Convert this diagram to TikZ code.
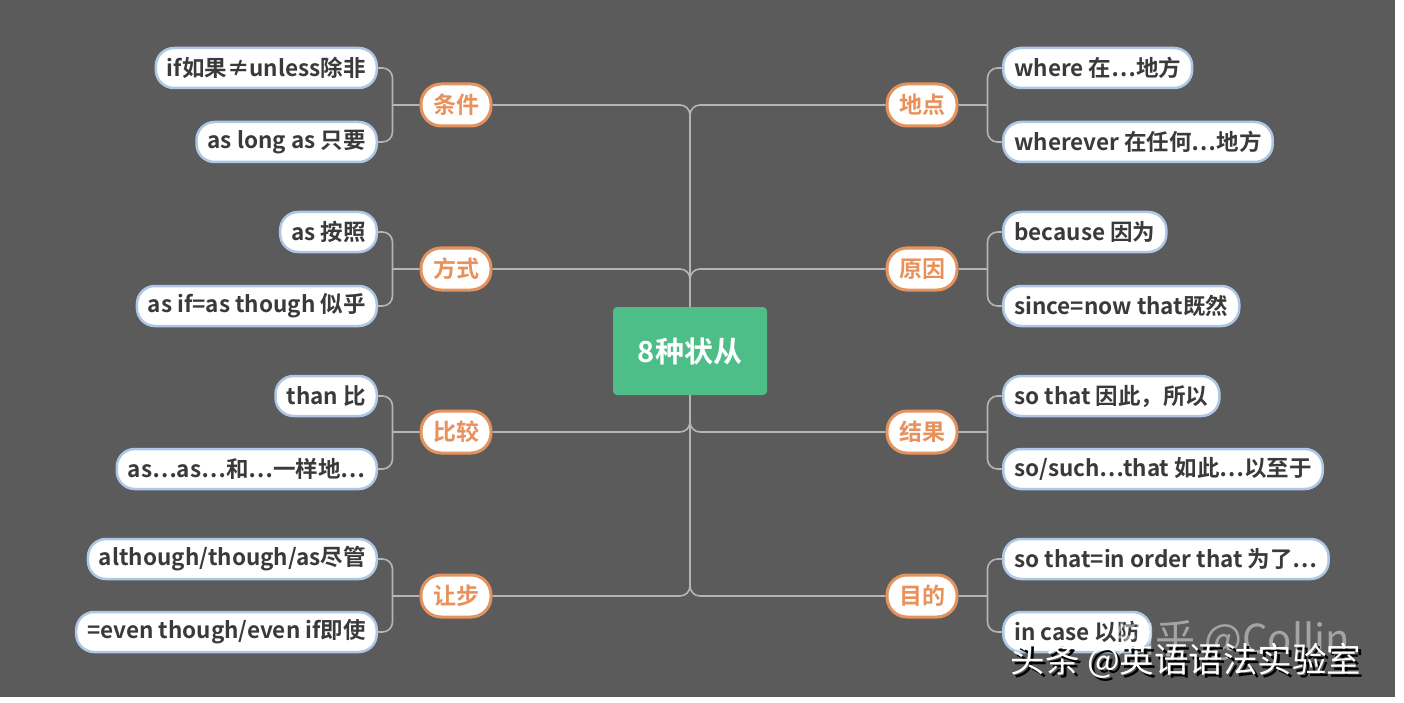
\documentclass[tikz,border=0pt]{standalone}
\usepackage{fontspec}
\setmainfont{Noto Sans CJK SC}[BoldFont={* Bold}]
\begin{document}
\begin{tikzpicture}[x=1pt,y=-1pt,
  leaf/.style={draw=leafb,line width=2.5pt,fill=white,rounded corners=18pt,minimum height=40pt,inner xsep=11pt,text=txt,font=\bfseries\fontsize{22.5}{24}\selectfont},
  cat/.style={draw=catb,line width=3pt,fill=white,rounded corners=20pt,minimum height=42pt,minimum width=70pt,text=catt,font=\bfseries\fontsize{23}{25}\selectfont},
  ln/.style={draw=lnc,line width=1.6pt,rounded corners=10pt}]
\definecolor{bg}{HTML}{5B5B5B}
\definecolor{leafb}{HTML}{AFC7E6}
\definecolor{txt}{HTML}{3A3A3A}
\definecolor{catb}{HTML}{E4925E}
\definecolor{catt}{HTML}{E8915C}
\definecolor{lnc}{HTML}{B5B5B5}
\definecolor{grn}{HTML}{4DBE88}
\useasboundingbox (0,0) rectangle (1404,703);
\fill[white] (0,0) rectangle (1404,703);
\fill[bg] (0,0) rectangle (1395,697);
\node[fill=grn,rounded corners=4pt,minimum width=154pt,minimum height=88pt,text=white,font=\bfseries\fontsize{29}{31}\selectfont] (c) at (690,351) {8种状从};
\node[cat] (l1) at (456,105) {条件};
\node[cat] (l2) at (456,269) {方式};
\node[cat] (l3) at (456,432) {比较};
\node[cat] (l4) at (456,596) {让步};
\node[cat] (r1) at (922,105) {地点};
\node[cat] (r2) at (922,269) {原因};
\node[cat] (r3) at (922,432) {结果};
\node[cat] (r4) at (922,596) {目的};
\node[leaf,anchor=east] (a1) at (378,68) {if如果≠unless除非};
\node[leaf,anchor=east] (a2) at (378,142) {as long as 只要};
\node[leaf,anchor=east] (b1) at (378,232) {as 按照};
\node[leaf,anchor=east] (b2) at (378,306) {as if=as though 似乎};
\node[leaf,anchor=east] (d1) at (378,396) {than 比};
\node[leaf,anchor=east] (d2) at (378,469) {as…as…和…一样地…};
\node[leaf,anchor=east] (e1) at (378,559) {although/though/as尽管};
\node[leaf,anchor=east] (e2) at (378,632) {=even though/even if即使};
\node[leaf,anchor=west] (f1) at (1002,68) {where 在…地方};
\node[leaf,anchor=west] (f2) at (1002,142) {wherever 在任何…地方};
\node[leaf,anchor=west] (g1) at (1002,232) {because 因为};
\node[leaf,anchor=west] (g2) at (1002,306) {since=now that既然};
\node[leaf,anchor=west] (h1) at (1002,396) {so that 因此，所以};
\node[leaf,anchor=west] (h2) at (1002,469) {so/such…that 如此…以至于};
\node[leaf,anchor=west] (k1) at (1002,559) {so that=in order that 为了…};
\node[leaf,anchor=west] (k2) at (1002,632) {in case 以防};
\draw[ln] (l1.east) -| (c.north);
\draw[ln] (l2.east) -| (c.north);
\draw[ln] (l3.east) -| (c.south);
\draw[ln] (l4.east) -| (c.south);
\draw[ln] (r1.west) -| (c.north);
\draw[ln] (r2.west) -| (c.north);
\draw[ln] (r3.west) -| (c.south);
\draw[ln] (r4.west) -| (c.south);
\foreach \p/\u/\v in {l1/a1/a2,l2/b1/b2,l3/d1/d2,l4/e1/e2}{
  \draw[ln] (\p.west) -- ++(-27,0) coordinate (t) (\u.east) -| (t) |- (\v.east);}
\foreach \p/\u/\v in {r1/f1/f2,r2/g1/g2,r3/h1/h2,r4/k1/k2}{
  \draw[ln] (\p.east) -- ++(29,0) coordinate (t) (\u.west) -| (t) |- (\v.west);}
\node[text=white,opacity=0.45,font=\fontsize{40}{42}\selectfont,anchor=west] (w1) at (1112,640) {知乎 @Collin};
\node[text=black,font=\fontsize{34.5}{36}\selectfont,anchor=west] (w2s) at (1010,664) {头条 @英语语法实验室};
\node[text=white,font=\fontsize{34.5}{36}\selectfont,anchor=west] (w2) at (1007,661) {头条 @英语语法实验室};
\end{tikzpicture}
\end{document}
